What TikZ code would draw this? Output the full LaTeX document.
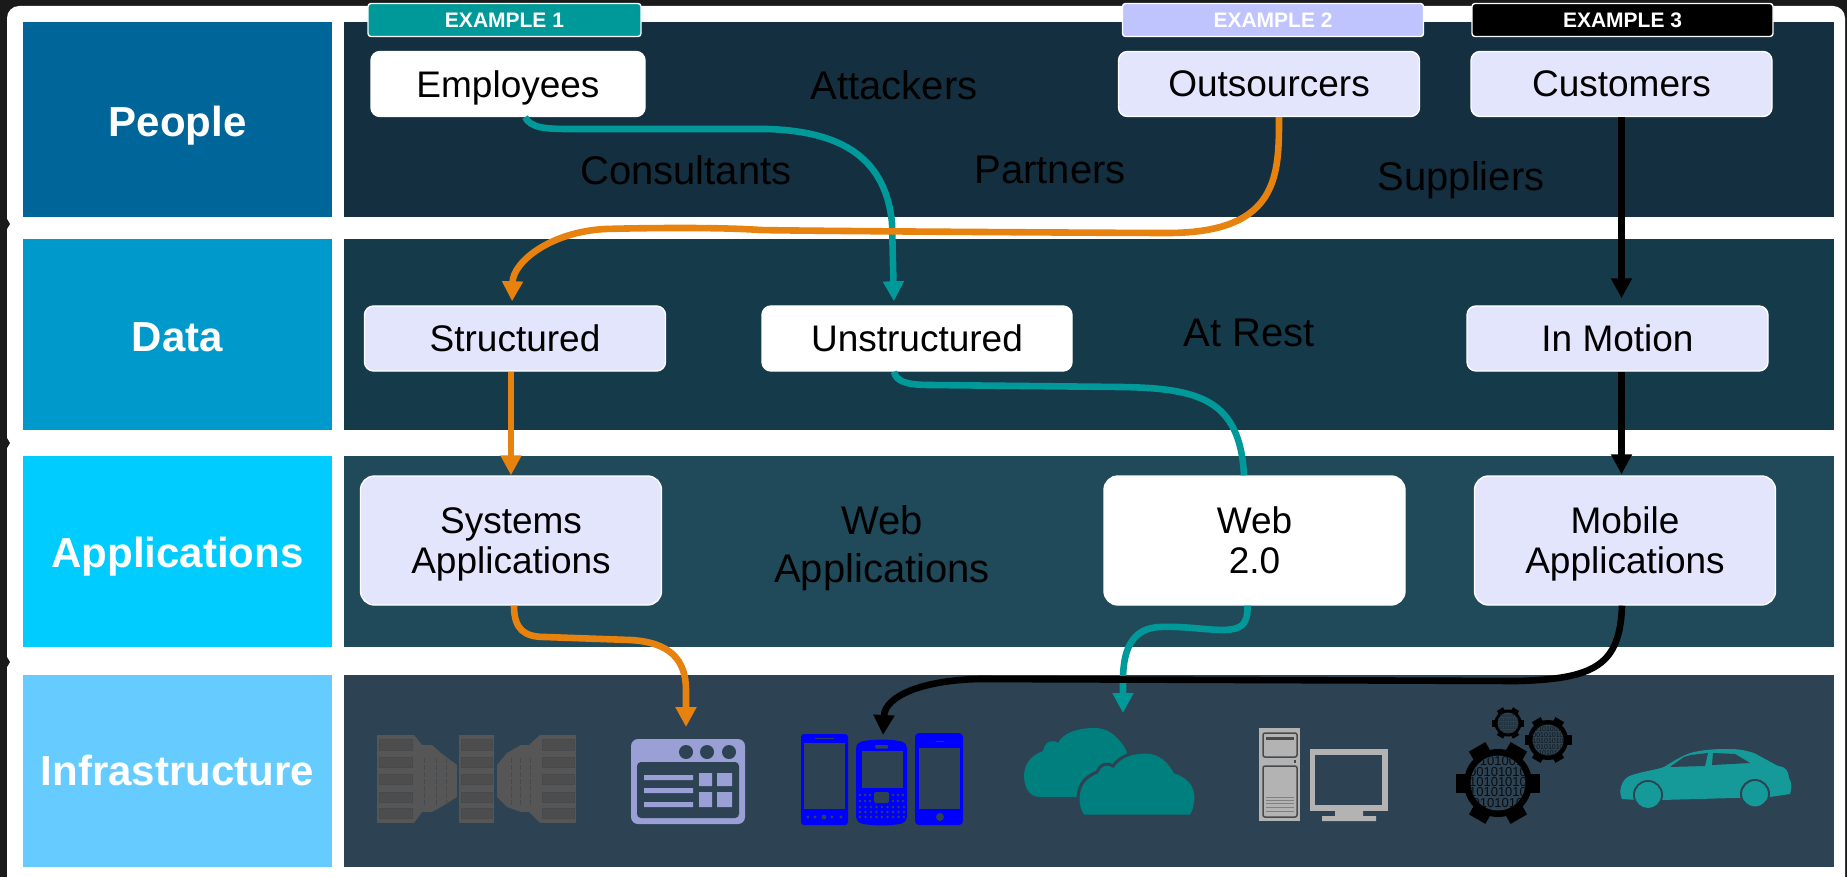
\documentclass[tikz,border=0pt]{standalone}
\usepackage{fontspec}
\setmainfont{Liberation Sans}
\usetikzlibrary{arrows.meta}
\definecolor{pagedark}{HTML}{1A1A1A}
\definecolor{lefta}{HTML}{006699}
\definecolor{leftb}{HTML}{0099CC}
\definecolor{leftc}{HTML}{00CCFF}
\definecolor{leftd}{HTML}{66CCFF}
\definecolor{panela}{HTML}{142F40}
\definecolor{panelb}{HTML}{153A4A}
\definecolor{panelc}{HTML}{204A5A}
\definecolor{paneld}{HTML}{2D4252}
\definecolor{lav}{HTML}{E3E5FC}
\definecolor{lavdark}{HTML}{BFC4FF}
\definecolor{teal1}{HTML}{009999}
\definecolor{orange1}{HTML}{E8820E}
\definecolor{srvgrey}{HTML}{565656}
\definecolor{srvdark}{HTML}{474A4D}
\definecolor{winblue}{HTML}{9A9FD6}
\definecolor{cloudteal}{HTML}{007F7F}
\definecolor{pcgrey}{HTML}{B3B3B3}
\definecolor{cargreen}{HTML}{169999}
\tikzset{
  catlabel/.style={text=white,font=\bfseries\fontsize{42}{46}\selectfont,inner sep=0pt,text depth=0pt},
  freetext/.style={text=black,font=\fontsize{40}{48}\selectfont,align=center,inner sep=0pt,text depth=0pt},
  itembox/.style={rectangle,rounded corners=9pt,fill=lav,draw=white,line width=1.4pt,text=black,
    font=\fontsize{37}{40}\selectfont,align=center,inner sep=0pt,minimum width=301pt,minimum height=65pt,text depth=0pt},
  itemwhite/.style={itembox,fill=white},
  tallbox/.style={itembox,rounded corners=14pt,minimum height=129pt},
  tagbox/.style={rectangle,rounded corners=3pt,draw=white,line width=1.4pt,text=white,
    font=\bfseries\fontsize{21}{24}\selectfont,inner sep=0pt,minimum height=33pt},
  flow/.style={line width=6.6pt},
  flowhead/.style={flow,-{Triangle[width=20pt,length=20pt]}},
}
\newcommand{\myrack}[2]{%
  \fill[srvgrey] (#1,735) rectangle (#2,823);
  \foreach \ya/\yb in {739/750,757/767,774/784,792/802,808/818}{
    \draw[srvdark,line width=1pt,fill=srvgrey!90!black] ({#1+2},\ya) rectangle ({#2-2},\yb);}
}
\newcommand{\mygear}[6]{% cx cy outer ring inner toothw
  \foreach \a in {0,60,120}{
    \fill[black,rotate around={\a:(#1,#2)}] ({#1-#3},{#2-#6/2}) rectangle ({#1+#3},{#2+#6/2});}
  \fill[black] (#1,#2) circle (#4pt);
  \fill[paneld] (#1,#2) circle (#5pt);
}
\begin{document}
\begin{tikzpicture}[x=1pt,y=-1pt]
\useasboundingbox (0,0) rectangle (1847,877);
\fill[pagedark] (0,0) rectangle (1847,877);
\fill[white,rounded corners=12pt] (7,6) -- (1845,6) -- (1845,900) -- (7,900) -- cycle;
\foreach \yy in {224,443,662}{\fill[pagedark] (7,{\yy-5}) -- (10,\yy) -- (7,{\yy+5}) -- cycle;}

% category column
\fill[lefta] (23,22) rectangle (332,217);
\fill[leftb] (23,239) rectangle (332,430);
\fill[leftc] (23,456) rectangle (332,647);
\fill[leftd] (23,675) rectangle (332,867);
% panels
\fill[panela] (344,22) rectangle (1834,217);
\fill[panelb] (344,239) rectangle (1834,430);
\fill[panelc] (344,456) rectangle (1834,647);
\fill[paneld] (344,675) rectangle (1834,867);

\node[catlabel] (lpeople) at (177.5,121) {People};
\node[catlabel] (ldata) at (177.5,337) {Data};
\node[catlabel] (lapps) at (177.5,552) {Applications};
\node[catlabel] (linfra) at (177.5,770) {Infrastructure};

% unhighlighted labels
\node[freetext] (attackers) at (894,85) {Attackers};
\node[freetext] (consultants) at (686,170) {Consultants};
\node[freetext] (partners) at (1050,170) {Partners};
\node[freetext] (suppliers) at (1461,176) {Suppliers};
\node[freetext] (atrest) at (1249,333) {At Rest};
\node[freetext] (webapps) at (882,544) {Web\\Applications};

% tags
\node[tagbox,fill=teal1,minimum width=273pt] (ex1) at (504.5,20) {EXAMPLE 1};
\node[tagbox,fill=lavdark,minimum width=301pt] (ex2) at (1273,20) {EXAMPLE 2};
\node[tagbox,fill=black,minimum width=301pt] (ex3) at (1622.5,20) {EXAMPLE 3};

% boxes
\node[itemwhite,minimum width=274pt] (emp) at (508,84) {Employees};
\node[itembox] (out) at (1269,84) {Outsourcers};
\node[itembox] (cust) at (1621.5,84) {Customers};
\node[itembox] (stru) at (515,338.5) {Structured};
\node[itemwhite,minimum width=310pt] (unst) at (917,338.5) {Unstructured};
\node[itembox] (motion) at (1617.5,338.5) {In Motion};
\node[tallbox] (sys) at (511,540.5) {Systems\\Applications};
\node[tallbox,fill=white] (web) at (1254.5,540.5) {Web\\2.0};
\node[tallbox] (mob) at (1625,540.5) {Mobile\\Applications};

% icon: servers
\myrack{377}{414}\myrack{459}{494}\myrack{540}{576}
\fill[srvgrey] (414,735) -- (422,745) -- (432,745) -- (441,753) -- (457,765) -- (457,797) -- (441,807) -- (432,812) -- (422,812) -- (414,823) -- cycle;
\fill[srvgrey] (540,735) -- (529,745) -- (521,745) -- (507,753) -- (497,765) -- (497,797) -- (507,807) -- (521,812) -- (529,812) -- (540,823) -- cycle;
\foreach \xa in {424,436,446}{\draw[srvdark,line width=1pt,dash pattern=on 5pt off 2pt] (\xa,758) -- (\xa,806);}
\foreach \xa in {511,520,530}{\draw[srvdark,line width=1pt,dash pattern=on 5pt off 2pt] (\xa,758) -- (\xa,806);}

% icon: window
\fill[winblue,rounded corners=7pt] (631,824) -- (631,739) -- (745,739) -- (745,824) -- cycle;
\fill[paneld,rounded corners=4pt] (637,762) -- (739,762) -- (739,818) -- (637,818) -- cycle;
\fill[paneld] (686,752) circle (7pt) (707,752) circle (7pt) (729,752) circle (7pt);
\fill[winblue] (644,775) rectangle (693,780) (644,788) rectangle (693,793) (644,802) rectangle (693,807);
\fill[winblue] (699,773) rectangle (712,786) (717,773) rectangle (732,786) (699,792) rectangle (712,807) (717,792) rectangle (732,807);

% icon: phones
\fill[blue,rounded corners=3pt] (801,734) rectangle (848,825);
\fill[paneld] (804,743) rectangle (845,809);
\draw[paneld,line width=1pt] (815,738.5) -- (834,738.5);
\foreach \xa in {808,815,832,841}{\fill[paneld] (\xa,817) circle (1.6pt);}
\fill[paneld] (824,817) circle (2.4pt);
\fill[blue,rounded corners=5pt] (856,743) .. controls (870,739) and (893,739) .. (907,743) -- (907,822) .. controls (893,826) and (870,826) .. (856,822) -- cycle;
\fill[paneld] (862,751) rectangle (903,788);
\fill[paneld,rounded corners=1pt] (875,745) rectangle (888,748.5);
\fill[paneld,rounded corners=1.5pt] (874,792) rectangle (889,803);
\foreach \xa in {860,865,870,893,898,903}{\foreach \ya in {795,801}{\fill[paneld] (\xa,\ya) circle (1.4pt);}}
\foreach \xa in {860,865.5,871,876.5,882,887.5,893,898.5,904}{\foreach \ya in {807,812,817}{\fill[paneld] (\xa,\ya) circle (1.4pt);}}
\fill[blue,rounded corners=4pt] (915,733) rectangle (963,825);
\fill[paneld] (919,748) rectangle (960,809);
\draw[paneld,line width=1pt] (936,741.5) -- (944,741.5);
\fill[paneld] (940,817) circle (4pt);

% icon: clouds
\fill[cloudteal] (1040,797) .. controls (1028,797) and (1024,785) .. (1024,776) .. controls (1024,763) and (1032,755) .. (1043,751) .. controls (1045,741) and (1052,739) .. (1058,743) .. controls (1063,733) and (1077,728) .. (1095,728) .. controls (1112,728) and (1122,742) .. (1127,752) -- (1130,797) -- cycle;
\fill[cloudteal,draw=paneld,line width=3pt] (1078,800) .. controls (1078,788) and (1082,778) .. (1097,772) .. controls (1100,764) and (1108,762) .. (1113,766) .. controls (1120,756) and (1132,752) .. (1146,752) .. controls (1160,752) and (1170,762) .. (1175,772) .. controls (1188,776) and (1196,785) .. (1196,797) .. controls (1196,805) and (1194,812) .. (1191,816) -- (1083,816) .. controls (1080,812) and (1078,806) .. (1078,800) -- cycle;

% icon: computer
\fill[pcgrey] (1259,728) rectangle (1300,821);
\draw[srvdark,line width=1.5pt,rounded corners=2pt] (1263,733) rectangle (1297,757);
\draw[srvdark,line width=1.5pt,rounded corners=2pt] (1263,766) rectangle (1297,817);
\fill[srvdark] (1266,737) rectangle (1294,739.5);
\fill[srvdark] (1294,760) rectangle (1295.5,763);
\foreach \ya in {797,800,803,807,811}{\draw[gray,line width=1pt] (1266,\ya) -- (1294,\ya);}
\fill[pcgrey] (1310,749) rectangle (1388,811);
\fill[paneld] (1315,755) rectangle (1382,805);
\fill[pcgrey] (1335,811) rectangle (1363,816) (1322,816) rectangle (1376,821);

% icon: gears
\mygear{1498}{783}{41.7}{34}{27.5}{19}
\begin{scope}
\clip (1498,783) circle (27.5pt);
\foreach \ya/\bits in {761/0101001,772/00101010,782/10101010,792/10101010,803/0101010}{
  \node[inner sep=0pt,text=black!80!paneld,font=\fontsize{13}{13}\selectfont] at (1498,\ya) {\bits};}
\end{scope}
\mygear{1548}{740}{23.5}{20}{15.5}{10}
\begin{scope}
\clip (1548,740) circle (15.5pt);
\foreach \ya/\bits in {729/0101001,735/00101010,741/10101010,747/10101010,753/0101010}{
  \node[inner sep=0pt,text=black!70!paneld,font=\fontsize{7}{7}\selectfont] at (1548,\ya) {\bits};}
\end{scope}
\mygear{1508}{723}{16}{13.5}{10.5}{7}
\begin{scope}
\clip (1508,723) circle (10.5pt);
\foreach \ya/\bits in {716/0101001,720/00101010,724/10101010,728/10101010,732/0101010}{
  \node[inner sep=0pt,text=black!50!paneld,font=\fontsize{4.5}{4.5}\selectfont] at (1508,\ya) {\bits};}
\end{scope}

% icon: car
\fill[cargreen] (1621,787) .. controls (1623,780) and (1626,777) .. (1632,775) .. controls (1645,771) and (1655,770) .. (1664,767) .. controls (1675,760) and (1685,754) .. (1694,752) .. controls (1708,749) and (1720,749) .. (1729,749) .. controls (1740,749) and (1748,751) .. (1754,753) -- (1778,766) .. controls (1786,767) and (1788,770) .. (1789,778) .. controls (1792,782) and (1792,790) .. (1790,794) -- (1770,797) -- (1662,800) -- (1637,800) -- (1622,799) .. controls (1620,795) and (1620,790) .. (1621,787) -- cycle;
\fill[paneld] (1670,767) -- (1684,757) -- (1691,755) -- (1708,753) -- (1705,766) -- cycle;
\fill[paneld] (1713,753) -- (1735,754) -- (1750,763) -- (1712,765) -- cycle;
\fill[cargreen,draw=paneld,line width=2pt] (1648,795) circle (14pt);
\fill[cargreen,draw=paneld,line width=2pt] (1755,794) circle (14pt);
\fill[paneld] (1630,802) rectangle (1666,810);
\fill[paneld] (1738,801) rectangle (1772,810);
\fill[cargreen] (1648,795) circle (13pt);
\fill[cargreen] (1755,794) circle (12.5pt);

% connectors
\draw[flowhead,teal1,shorten >=4pt] ([xshift=17pt]emp.south) .. controls (531,128) and (545,129) .. (570,129) -- (767,129) .. controls (830,131) and (885,150) .. (892,223) -- ([xshift=-23pt]unst.north);
\draw[flow,teal1] ([xshift=-23pt]unst.south) .. controls (896,381) and (905,385) .. (930,385) -- (1120,387) .. controls (1200,388) and (1240,400) .. (web.north -| 1244,0);
\draw[flowhead,teal1] ([xshift=-7pt]web.south) .. controls (1248,626) and (1240,629) .. (1225,630) .. controls (1205,630) and (1185,626) .. (1160,627) .. controls (1135,628) and (1123,645) .. (1123,680) -- (1123,713);

\draw[flowhead,orange1,shorten >=4pt] ([xshift=10pt]out.south) .. controls (1279,175) and (1279,232) .. (1170,233) .. controls (1120,233) and (800,231) .. (760,230) .. controls (720,227) and (640,228) .. (605,229) .. controls (550,232) and (513,262) .. ([xshift=-3pt]stru.north);
\draw[flowhead,orange1] (stru.south -| sys.north) -- (sys.north);
\draw[flowhead,orange1] ([xshift=3pt]sys.south) .. controls (514,630) and (525,637) .. (545,637) -- (630,640) .. controls (670,642) and (686,660) .. (686,690) -- (686,727);

\draw[flowhead,black,shorten >=7pt] (cust.south) -- (cust.south |- motion.north);
\draw[flowhead,black,shorten >=1pt] (motion.south -| cust.south) -- (mob.north -| cust.south);
\draw[flowhead,black] ([xshift=-3pt]mob.south) .. controls (1620,665) and (1595,679) .. (1517,681) -- (980,679) .. controls (925,680) and (885,695) .. (883,735);
\end{tikzpicture}
\end{document}
